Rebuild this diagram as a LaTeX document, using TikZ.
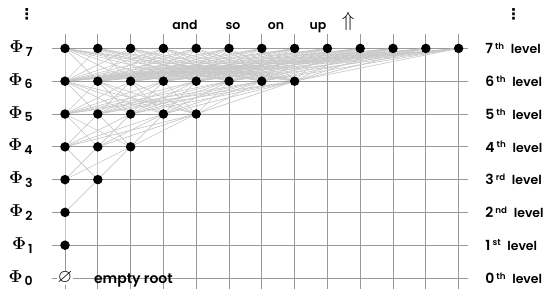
\documentclass[tikz,border=0pt]{standalone}
\usepackage{amssymb}
\usepackage[no-math]{fontspec}
\setmainfont{Poppins}[UprightFont={* SemiBold}]
\newfontfamily\symbfont{DejaVu Sans}
\usetikzlibrary{backgrounds}

\tikzset{
  gridline/.style={black!40, line width=0.8bp},
  edge/.style={black!22, line width=0.65bp},
  dot/.style={circle, fill=black, inner sep=0pt, minimum size=9.5bp}
}

\begin{document}
\begin{tikzpicture}[x=32.8bp, y=32.8bp, font=\fontsize{12.5}{14}\selectfont]
  \useasboundingbox (-1.982,-0.335) rectangle (14.634,8.476);

  % levels of the lattice, one dot per element
  \foreach \l/\n in {1/1, 2/1, 3/2, 4/3, 5/5, 6/8, 7/13} {
    \pgfmathtruncatemacro\m{\n-1}
    \foreach \c in {0,...,\m}
      \node[dot] (d-\l-\c) at (\c,\l) {};
  }
  \node[fill=white, inner sep=0.5bp, font=\fontsize{19}{19}\selectfont] (root) at (0,0) {$\varnothing$};
  \node[anchor=base west, font=\fontsize{14}{16}\selectfont] (rootlabel) at (0.78,-0.17) {empty root};

  \begin{pgfonlayer}{background}
    % the grid
    \foreach \c in {0,...,12} \draw[gridline] (\c,-0.34) -- (\c,7.43);
    \foreach \l in {0,...,7} \draw[gridline] (-0.4,\l) -- (12.3,\l);
    % every element is joined to every element one level up
    \foreach \l/\n/\k in {1/1/1, 2/1/2, 3/2/3, 4/3/5, 5/5/8, 6/8/13} {
      \pgfmathtruncatemacro\lu{\l+1}
      \pgfmathtruncatemacro\m{\n-1}
      \pgfmathtruncatemacro\mu{\k-1}
      \foreach \c in {0,...,\m}
        \foreach \e in {0,...,\mu}
          \draw[edge] (d-\l-\c) -- (d-\lu-\e);
    }
  \end{pgfonlayer}

  % names of the levels
  \foreach \l/\s in {0/th, 1/st, 2/nd, 3/rd, 4/th, 5/th, 6/th, 7/th} {
    \node[anchor=east] (phi-\l) at (-0.88,\l)
      {{\fontsize{17}{17}\selectfont$\mathbf{\Phi}$}\,\raisebox{-0.55ex}{\fontsize{12.5}{12}\selectfont\l}};
    \node[anchor=west, inner sep=1bp] (lev-\l) at (12.78,\l)
      {{\fontsize{14}{14}\selectfont\l}\,\textsuperscript{\s}\enspace level};
  }

  \node[font=\fontsize{15}{15}\symbfont\bfseries] (dotsl) at (-1.16,8.05) {⋮};
  \node[font=\fontsize{15}{15}\symbfont\bfseries] (dotsr) at (13.68,8.05) {⋮};

  \node[anchor=base] (w-and) at (3.66,7.59) {and};
  \node[anchor=base] (w-so) at (5.12,7.59) {so};
  \node[anchor=base] (w-on) at (6.43,7.59) {on};
  \node[anchor=base] (w-up) at (7.71,7.59) {up};
  \node[anchor=base, font=\fontsize{21}{21}\selectfont] (w-arrow) at (8.63,7.68) {$\Uparrow$};
\end{tikzpicture}
\end{document}
